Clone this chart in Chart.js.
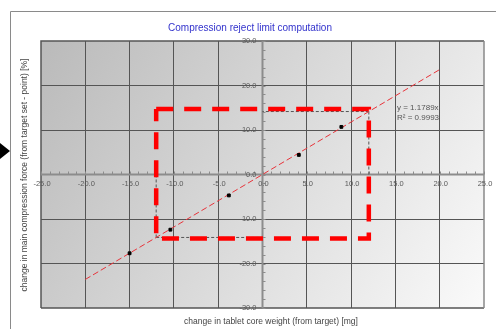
<!DOCTYPE html>
<html><head><meta charset="utf-8">
<script src="https://cdn.jsdelivr.net/npm/chart.js@4/dist/chart.umd.min.js"></script>
<style>html,body{margin:0;padding:0;background:#fff}#wrap{width:496px;height:329px;position:relative}</style>
</head><body><div id="wrap"><canvas id="c" width="496" height="329"></canvas></div>
<script>
const titleText = "Compression reject limit computation";
const xTitle = "change in tablet core weight (from target) [mg]";
const yTitle = "change in main compression force (from target set - point) [%]";
const xTickLabels = ["-25.0","-20.0","-15.0","-10.0","-5.0","0.0","5.0","10.0","15.0","20.0","25.0"];
const yTickLabels = ["-30.0","-20.0","-10.0","0.0","10.0","20.0","30.0"];
const measX = [-15.0, -10.4, -3.8, 4.1, 8.9];
const measY = [-17.7, -12.4, -4.7, 4.4, 10.7];
const trendX = [-20, 20];
const trendY = [-23.58, 23.58];
const limitX = [-12, 12];
const limitY = [-14.15, 14.15];
const rectX = [-12, 12, 12, -12, -12];
const rectY = [14.7, 14.7, -14.4, -14.4, 14.7];
const eqText = ["y = 1.1789x", "R\u00b2 = 0.9993"];

const bgPlugin = {
  id: 'bg',
  beforeDraw(chart) {
    const {ctx, chartArea: a} = chart;
    ctx.save();
    const g = ctx.createLinearGradient(a.left, a.top, a.right, a.bottom);
    g.addColorStop(0, '#bababa');
    g.addColorStop(1, '#fafafa');
    ctx.fillStyle = g;
    ctx.fillRect(a.left, a.top, a.right - a.left, a.bottom - a.top);
    ctx.strokeStyle = '#8a8a8a'; ctx.lineWidth = 1;
    ctx.beginPath(); ctx.moveTo(10.5, 329); ctx.lineTo(10.5, 11.5); ctx.lineTo(496, 11.5); ctx.stroke();
    ctx.fillStyle = '#000';
    ctx.beginPath(); ctx.moveTo(0, 143); ctx.lineTo(10, 151); ctx.lineTo(0, 159); ctx.closePath(); ctx.fill();
    ctx.restore();
  },
  beforeDatasetsDraw(chart) {
    const {ctx, chartArea: a, scales: {x, y}} = chart;
    ctx.save();
    ctx.strokeStyle = '#555'; ctx.lineWidth = 1.5;
    ctx.beginPath(); ctx.moveTo(a.left, a.bottom); ctx.lineTo(a.left, a.top); ctx.lineTo(a.right, a.top); ctx.stroke();
    ctx.beginPath(); ctx.moveTo(a.left, a.bottom); ctx.lineTo(a.right, a.bottom); ctx.stroke();
    ctx.strokeStyle = '#888';
    ctx.beginPath(); ctx.moveTo(a.right, a.top); ctx.lineTo(a.right, a.bottom); ctx.stroke();
    const x0 = x.getPixelForValue(0), y0 = y.getPixelForValue(0);
    ctx.strokeStyle = '#8c8c8c'; ctx.lineWidth = 2;
    ctx.beginPath(); ctx.moveTo(a.left, y0); ctx.lineTo(a.right, y0); ctx.stroke();
    ctx.beginPath(); ctx.moveTo(x0, a.top); ctx.lineTo(x0, a.bottom); ctx.stroke();
    ctx.lineWidth = 1;
    for (let v = -25; v <= 25; v++) {
      const px = Math.round(x.getPixelForValue(v)) + 0.5;
      ctx.beginPath(); ctx.moveTo(px, y0 - 3); ctx.lineTo(px, y0); ctx.stroke();
    }
    for (let v = -30; v <= 30; v += 2) {
      const py = Math.round(y.getPixelForValue(v)) + 0.5;
      ctx.beginPath(); ctx.moveTo(x0, py); ctx.lineTo(x0 + 3, py); ctx.stroke();
    }
    ctx.fillStyle = '#5a5a5a';
    ctx.font = '7.5px "Liberation Sans", Arial, sans-serif';
    ctx.textBaseline = 'middle';
    ctx.textAlign = 'center';
    xTickLabels.forEach(t => {
      ctx.fillText(t, x.getPixelForValue(parseFloat(t)) + 1, y0 + 9);
    });
    ctx.textAlign = 'right';
    yTickLabels.forEach(t => {
      ctx.fillText(t, x0 - 6, y.getPixelForValue(parseFloat(t)));
    });
    ctx.strokeStyle = '#555'; ctx.setLineDash([3, 2]); ctx.lineWidth = 1;
    const lx0 = x.getPixelForValue(limitX[0]), lx1 = x.getPixelForValue(limitX[1]);
    const ly0 = y.getPixelForValue(limitY[0]), ly1 = y.getPixelForValue(limitY[1]);
    ctx.beginPath();
    ctx.moveTo(lx0, ly0); ctx.lineTo(lx0, y0);
    ctx.moveTo(lx0, ly0); ctx.lineTo(x0, ly0);
    ctx.moveTo(lx1, ly1); ctx.lineTo(lx1, y0);
    ctx.moveTo(lx1, ly1); ctx.lineTo(x0, ly1);
    ctx.stroke();
    ctx.restore();
  },
  afterDraw(chart) {
    const {ctx} = chart;
    ctx.save();
    ctx.fillStyle = '#3333cc';
    ctx.font = '10px "Liberation Sans", Arial, sans-serif';
    ctx.textAlign = 'center'; ctx.textBaseline = 'middle';
    ctx.fillText(titleText, 250, 28);
    ctx.fillStyle = '#444';
    ctx.font = '8.5px "Liberation Sans", Arial, sans-serif';
    ctx.fillText(xTitle, 271, 322);
    ctx.save();
    ctx.translate(25, 175); ctx.rotate(-Math.PI / 2);
    ctx.fillText(yTitle, 0, 0);
    ctx.restore();
    ctx.fillStyle = '#555';
    ctx.font = '8px "Liberation Sans", Arial, sans-serif';
    ctx.textAlign = 'left';
    ctx.fillText(eqText[0], 397, 108);
    ctx.fillText(eqText[1], 397, 118);
    ctx.restore();
  }
};

new Chart(document.getElementById('c'), {
  type: 'scatter',
  data: {
    datasets: [
      {
        label: 'limits', type: 'line',
        data: rectX.map((v, i) => ({x: v, y: rectY[i]})),
        borderColor: '#ff0000', borderWidth: 4.5, borderDash: [17, 11],
        pointRadius: 0, fill: false, tension: 0, order: 3
      },
      {
        label: 'trend', type: 'line',
        data: trendX.map((v, i) => ({x: v, y: trendY[i]})),
        borderColor: '#e8333a', borderWidth: 1, borderDash: [6, 3],
        pointRadius: 0, fill: false, tension: 0, order: 2
      },
      {
        label: 'measured',
        data: measX.map((v, i) => ({x: v, y: measY[i]})),
        backgroundColor: '#000', borderColor: '#000',
        pointStyle: 'rect', pointRadius: 2, order: 1
      }
    ]
  },
  options: {
    responsive: false, animation: false,
    layout: {padding: {left: 41, right: 12, top: 41, bottom: 21}},
    plugins: {legend: {display: false}, tooltip: {enabled: false}, title: {display: false}},
    scales: {
      x: {
        type: 'linear', min: -25, max: 25,
        ticks: {display: false, stepSize: 5},
        border: {display: false},
        grid: {
          color: ctx => (ctx.tick && (ctx.tick.value === 0 || Math.abs(ctx.tick.value) === 25)) ? 'rgba(0,0,0,0)' : '#555',
          lineWidth: 1, drawTicks: false
        }
      },
      y: {
        type: 'linear', min: -30, max: 30,
        ticks: {display: false, stepSize: 10},
        border: {display: false},
        grid: {
          color: ctx => (ctx.tick && (ctx.tick.value === 0 || Math.abs(ctx.tick.value) === 30)) ? 'rgba(0,0,0,0)' : '#555',
          lineWidth: 1, drawTicks: false
        }
      }
    }
  },
  plugins: [bgPlugin]
});
</script>
</body></html>
